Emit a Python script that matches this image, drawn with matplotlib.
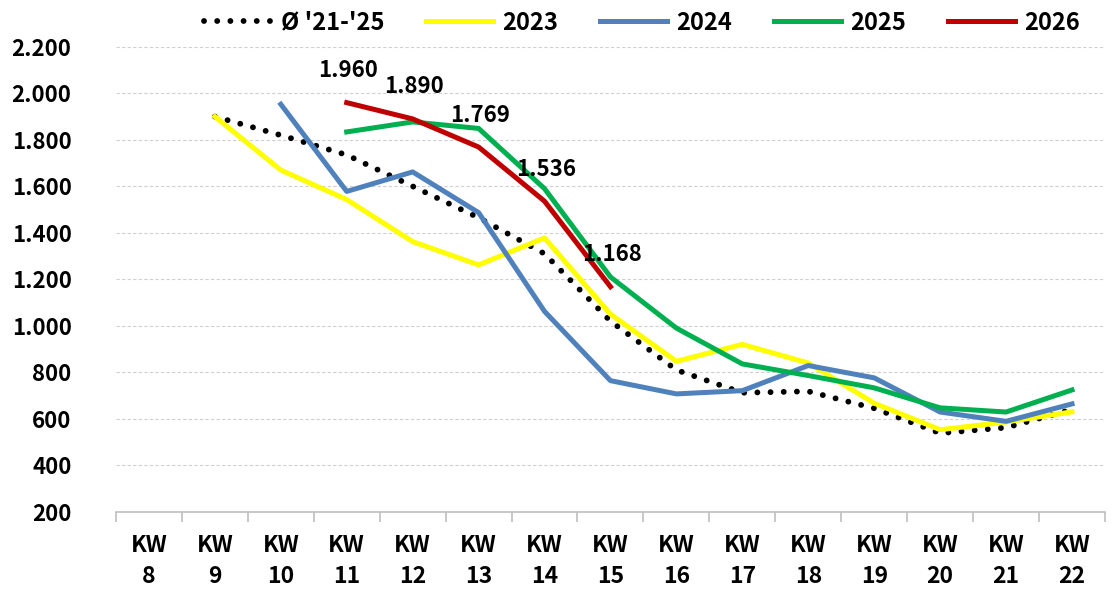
import numpy as np
import matplotlib.pyplot as plt
from matplotlib.ticker import FuncFormatter, FixedLocator

plt.rcParams['font.family'] = ['Noto Sans CJK KR', 'DejaVu Sans']
plt.rcParams['font.weight'] = 'bold'

nan = np.nan
wochen = ["KW\n%d" % k for k in range(8, 23)]
avg_21_25 = [nan, 1900, 1820, 1735, 1600, 1465, 1310, 1020, 810, 712, 718, 645, 538, 562, 640]
y2023 = [nan, 1900, 1670, 1543, 1362, 1262, 1378, 1050, 847, 920, 840, 667, 553, 586, 630]
y2024 = [nan, nan, 1953, 1578, 1662, 1487, 1062, 764, 707, 721, 829, 776, 629, 589, 664]
y2025 = [nan, nan, nan, 1834, 1877, 1849, 1590, 1210, 990, 836, 786, 733, 647, 629, 724]
y2026 = [nan, nan, nan, 1960, 1890, 1769, 1536, 1168, nan, nan, nan, nan, nan, nan, nan]

fig = plt.figure(figsize=(11.15, 5.93), dpi=100)
ax = fig.add_axes([0.104, 0.137, 0.887, 0.784])
x = np.arange(len(wochen))

lw = 3.6
ax.plot(x, avg_21_25, color='black', lw=4.2, linestyle=(0, (0.01, 2.25)),
        dash_capstyle='round', label="Ø '21-'25", zorder=2)
ax.plot(x, y2023, color='#FFFF00', lw=lw, label='2023', zorder=3)
ax.plot(x, y2024, color='#4F81BD', lw=lw, label='2024', zorder=4)
ax.plot(x, y2025, color='#00B050', lw=lw, label='2025', zorder=5)
ax.plot(x, y2026, color='#C00000', lw=lw, label='2026', zorder=6)

# Beschriftung 2026
for i, v in enumerate(y2026):
    if not np.isnan(v):
        ax.annotate(f"{v:,.0f}".replace(",", "."), (x[i], v), xytext=(1, 23),
                    textcoords='offset points', ha='center', va='center',
                    fontsize=16, fontweight='bold', zorder=7)

ax.set_xlim(-0.5, len(wochen) - 0.5)
ax.set_ylim(200, 2200)
ax.set_yticks(np.arange(200, 2201, 200))
ax.yaxis.set_major_formatter(FuncFormatter(lambda v, p: f"{v:,.0f}".replace(",", ".")))
ax.grid(axis='y', color='#d0d0d0', linestyle=(0, (3, 2)), linewidth=0.8)
ax.set_axisbelow(True)

ax.set_xticks(x)
ax.set_xticklabels(wochen)
ax.xaxis.set_minor_locator(FixedLocator(np.arange(-0.5, len(wochen), 1)))
ax.tick_params(axis='x', which='major', length=0, pad=16, labelsize=16.5)
ax.tick_params(axis='x', which='minor', length=7, color='#bfbfbf', width=1.2)
ax.tick_params(axis='y', length=0, pad=32, labelsize=16)
for lab in ax.get_xticklabels() + ax.get_yticklabels():
    lab.set_fontweight('bold')
for lab in ax.get_xticklabels():
    lab.set_linespacing(1.45)

for s in ['top', 'right', 'left']:
    ax.spines[s].set_visible(False)
ax.spines['bottom'].set_color('#bfbfbf')
ax.spines['bottom'].set_linewidth(1.2)

fig.legend(loc='center', bbox_to_anchor=(0.576, 0.962), ncol=5, frameon=False,
           handlelength=2.85, columnspacing=1.75, handletextpad=0.4,
           prop={'size': 17, 'weight': 'bold'})

fig.savefig('out.png', dpi=100)
